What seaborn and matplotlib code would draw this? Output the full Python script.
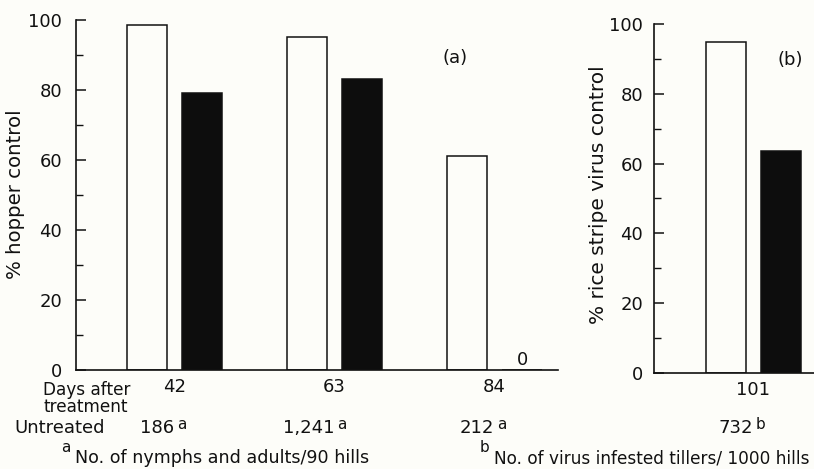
import numpy as np
import pandas as pd
import matplotlib
matplotlib.use("Agg")
import matplotlib.pyplot as plt
import matplotlib.transforms as mtrans
import seaborn as sns
from matplotlib.ticker import MultipleLocator

# ---- data ----
days_a = ["42", "63", "84"]
treat_names = ["Treatment 1", "Treatment 2"]
hopper_t1 = [98.5, 95.0, 61.0]
hopper_t2 = [79.2, 83.0, 0.0]
untreated_a = ["186", "1,241", "212"]
untreated_a_mark = ["a", "a", "a"]

days_b = ["101"]
virus_t1 = [94.7]
virus_t2 = [63.7]
untreated_b = ["732"]
untreated_b_mark = ["b"]

ylabel_a = "% hopper control"
ylabel_b = "% rice stripe virus control"
foot_a = "No. of nymphs and adults/90 hills"
foot_b = "No. of virus infested tillers/ 1000 hills"

df_a = pd.DataFrame({
    "day": days_a * 2,
    "treat": [treat_names[0]] * 3 + [treat_names[1]] * 3,
    "val": hopper_t1 + hopper_t2,
})
df_b = pd.DataFrame({
    "day": days_b * 2,
    "treat": treat_names,
    "val": virus_t1 + virus_t2,
})

BG = "#fdfdf9"
INK = "#111111"
sns.set_theme(style="ticks")
plt.rcParams["font.family"] = ["DejaVu Sans"]

W, H = 814, 469
fig = plt.figure(figsize=(W / 100, H / 100), dpi=100, facecolor=BG)

def fx(x):
    return x / W

def fy(y):
    return 1 - y / H

ax_a = fig.add_axes([fx(76), fy(370), fx(558) - fx(76), fy(20) - fy(370)])
ax_b = fig.add_axes([fx(654), fy(373), 1.0 - fx(654), fy(24) - fy(373)])

pal = {treat_names[0]: BG, treat_names[1]: "#0d0d0d"}

for ax, df, order in [(ax_a, df_a, days_a), (ax_b, df_b, days_b)]:
    ax.set_facecolor(BG)
    sns.barplot(data=df, x="day", y="val", hue="treat", order=order,
                hue_order=treat_names, palette=pal, width=0.688, gap=0.273,
                edgecolor=INK, linewidth=1.1, legend=False, ax=ax,
                saturation=1)
    ax.set_ylim(0, 100)
    ax.yaxis.set_major_locator(MultipleLocator(20))
    ax.yaxis.set_minor_locator(MultipleLocator(10))
    ax.tick_params(axis="y", which="major", direction="in", length=7, width=1.1,
                   labelsize=13, color=INK, labelcolor=INK)
    ax.tick_params(axis="y", which="minor", direction="in", length=5, width=1.0,
                   color=INK)
    ax.tick_params(axis="x", length=0, labelsize=13, pad=6, labelcolor=INK)
    for s in ["top", "right"]:
        ax.spines[s].set_visible(False)
    for s in ["left", "bottom"]:
        ax.spines[s].set_linewidth(1.2)
        ax.spines[s].set_color(INK)
    ax.set_xlabel("")

ax_a.set_xlim(-0.616, 2.397)
ax_b.set_xlim(-0.619, 0.381)
ax_a.tick_params(axis="y", which="major", pad=10)
ax_b.tick_params(axis="y", which="major", pad=8)

ax_a.set_ylabel(ylabel_a, fontsize=14.2, color=INK)
ax_a.yaxis.set_label_coords(-0.106, 0.503)
ax_b.set_ylabel(ylabel_b, fontsize=14.5, color=INK)
ax_b.yaxis.set_label_coords(-0.2875, 0.51)

ax_a.text(0.786, 0.891, "(a)", transform=ax_a.transAxes, fontsize=13,
          ha="center", va="center", color=INK)
ax_b.text(0.85, 0.897, "(b)", transform=ax_b.transAxes, fontsize=13,
          ha="center", va="center", color=INK)

# zero-value annotation
offset = 0.172
for i, v in enumerate(hopper_t2):
    if v == 0:
        ax_a.annotate("0", (i + offset, v), xytext=(0, 1), textcoords="offset points",
                      ha="center", va="bottom", fontsize=13, color=INK)

# bottom texts
fig.text(fx(43), fy(381), "Days after\ntreatment", fontsize=12.2, ha="left",
         va="top", linespacing=0.9, color=INK)
fig.text(fx(14), fy(428), "Untreated", fontsize=13, ha="left", va="center",
         color=INK)

for ax, labels, marks in [(ax_a, untreated_a, untreated_a_mark),
                          (ax_b, untreated_b, untreated_b_mark)]:
    tr = mtrans.blended_transform_factory(ax.transData, fig.transFigure)
    for i, (lab, mk) in enumerate(zip(labels, marks)):
        ax.text(i, fy(428), lab, transform=tr, fontsize=13, ha="right",
                va="center", color=INK)
        ax.text(i + 0.015, fy(424), mk, transform=tr, fontsize=11, ha="left",
                va="center", color=INK)

fig.text(fx(61), fy(447), "a", fontsize=11, ha="left", va="center", color=INK)
fig.text(fx(75), fy(458), foot_a, fontsize=12.6, ha="left", va="center",
         color=INK)
fig.text(fx(480), fy(447), "b", fontsize=11, ha="left", va="center", color=INK)
fig.text(fx(494), fy(458), foot_b, fontsize=12.2, ha="left", va="center",
         color=INK)

fig.savefig("out.png", dpi=100, facecolor=BG)
